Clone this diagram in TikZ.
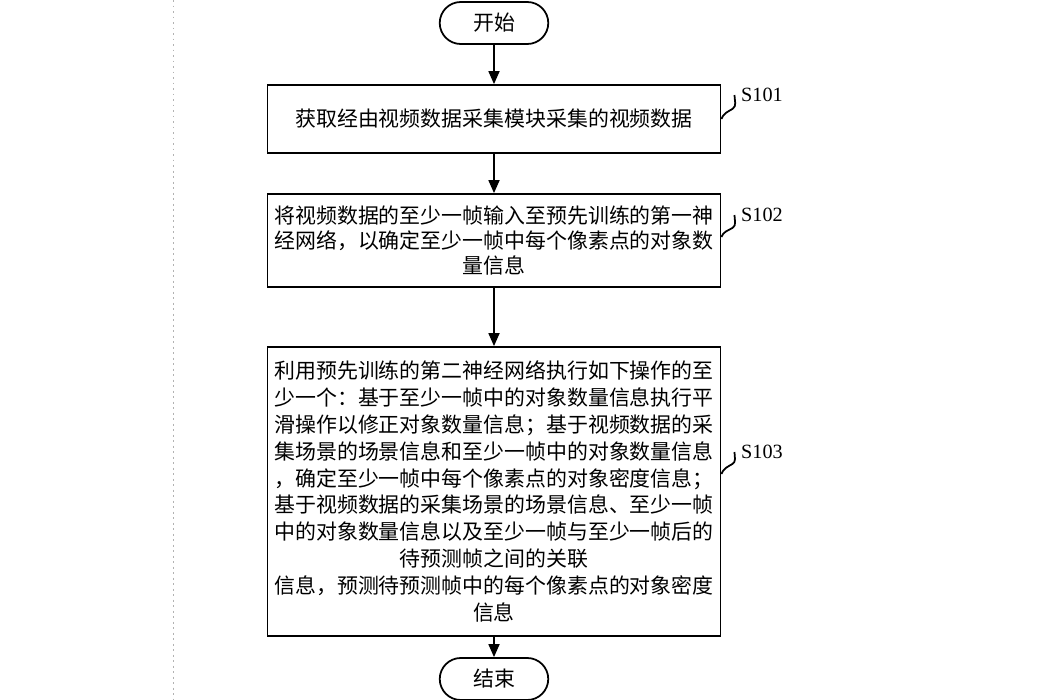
\documentclass[tikz,border=0pt]{standalone}
\usepackage{fontspec}
\newfontfamily\cjk{Noto Sans CJK SC}
\newfontfamily\tagfont{Liberation Serif}
\usepackage{tikz}
\usetikzlibrary{positioning,shapes,calc,arrows.meta}

\begin{document}
\begin{tikzpicture}[line width=1pt,>={Triangle[length=2.6mm,width=2.2mm]}]
\tikzstyle{every node}=[font=\cjk\fontsize{11.9}{14}\selectfont]
\tikzstyle{stepbox}=[rectangle,draw,text width=8.86cm,inner xsep=0.1cm,align=center]
\tikzstyle{terminal}=[rounded rectangle,draw,minimum width=2.14cm,minimum height=0.84cm,inner xsep=0.62cm]
\tikzstyle{tag}=[font=\tagfont\fontsize{11.5}{13}\selectfont]
\tikzstyle{curl}=[line width=1pt]
\useasboundingbox (0,0) rectangle (21,-14);
% margin guide on the left
\draw[line width=0.4pt,black!30,dash pattern=on 0.04cm off 0.07cm] (3.46,0) -- (3.46,-14);
% the steps
\node[terminal] (start) at (9.88,-0.46) {开始};
\node[stepbox,minimum height=1.36cm,below of=start,node distance=1.92cm] (b1) {获取经由视频数据采集模块采集的视频数据};
\node[stepbox,minimum height=1.86cm,below of=b1,node distance=2.43cm] (b2) {将视频数据的至少一帧输入至预先训练的第一神\\经网络，以确定至少一帧中每个像素点的对象数\\量信息};
\node[stepbox,minimum height=5.78cm,below of=b2,node distance=5.02cm,font=\cjk\fontsize{11.9}{15.3}\selectfont] (b3) {利用预先训练的第二神经网络执行如下操作的至\\少一个：基于至少一帧中的对象数量信息执行平\\滑操作以修正对象数量信息；基于视频数据的采\\集场景的场景信息和至少一帧中的对象数量信息\\，确定至少一帧中每个像素点的对象密度信息；\\基于视频数据的采集场景的场景信息、至少一帧\\中的对象数量信息以及至少一帧与至少一帧后的\\待预测帧之间的关联\\信息，预测待预测帧中的每个像素点的对象密度\\信息};
\node[terminal,below of=b3,node distance=3.75cm] (stop) {结束};
\draw[->] (start) -- (b1);
\draw[->] (b1) -- (b2);
\draw[->] (b2) -- (b3);
\draw[->] (b3) -- (stop);
% step labels
\node[tag,right of=b1,node distance=5.36cm,yshift=4.8mm] (s101) {S101};
\node[tag,right of=b2,node distance=5.36cm,yshift=5.1mm] (s102) {S102};
\node[tag,right of=b3,node distance=5.36cm,yshift=7.9mm] (s103) {S103};
\draw[curl] (b1.east) to[out=70,in=210] ++(0.22,0.2) to[out=30,in=-90] (s101.west);
\draw[curl] ([yshift=0.07cm]b2.east) to[out=70,in=210] ++(0.22,0.18) to[out=30,in=-90] (s102.west);
\draw[curl] ([yshift=0.35cm]b3.east) to[out=70,in=210] ++(0.22,0.2) to[out=30,in=-90] (s103.west);
\end{tikzpicture}
\end{document}
